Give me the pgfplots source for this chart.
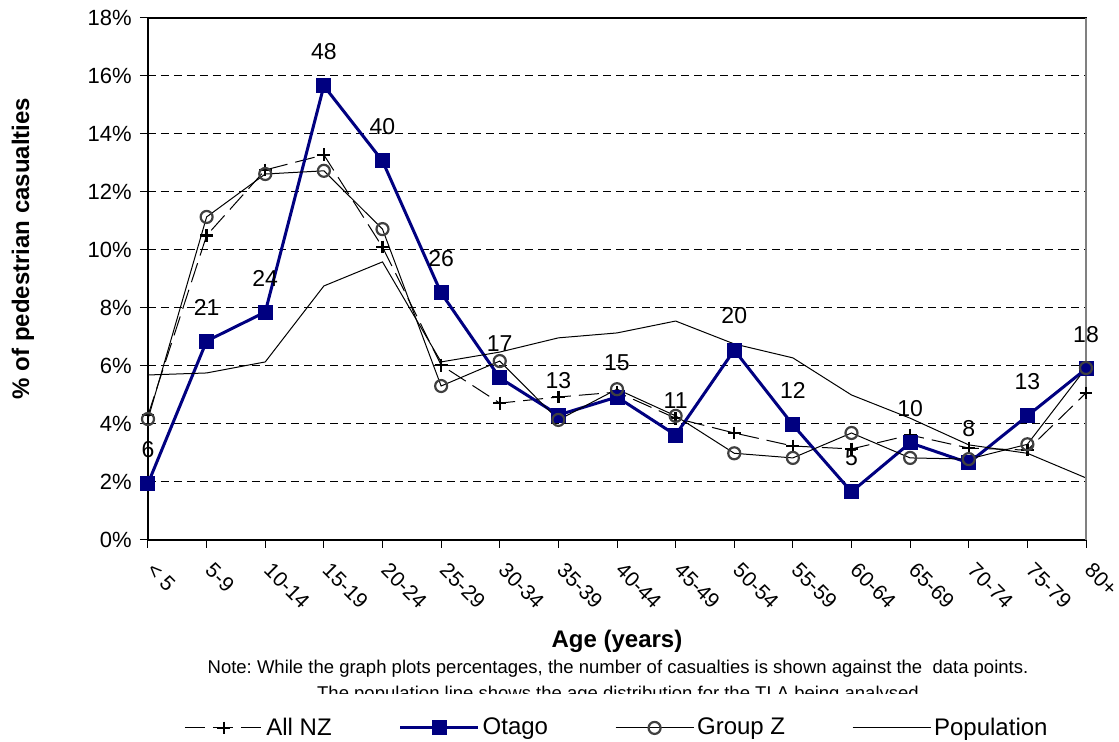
\documentclass[border=0pt]{standalone}
\usepackage{fontspec}
\setmainfont{Liberation Sans}
\usepackage{pgfplots}
\pgfplotsset{compat=1.18}
\usepackage{pgfplotstable}
\definecolor{navy}{RGB}{0,0,128}
\definecolor{cgray}{RGB}{64,64,64}
\frenchspacing

\pgfplotstableread{
x allnz otago lab groupz pop
0  4.30  1.95 6   4.17 5.69
1  10.50 6.86 21  11.14 5.76
2  12.76 7.86 24  12.62 6.14
3  13.28 15.66 48 12.73 8.76
4  10.10 13.07 40 10.72 9.59
5  6.03  8.52 26  5.31 6.14
6  4.72  5.59 17  6.17 6.48
7  4.93  4.31 13  4.14 6.97
8  5.10  4.93 15  5.20 7.14
9  4.20  3.62 11  4.28 7.55
10 3.69  6.55 20  2.99 6.76
11 3.24  3.97 12  2.83 6.28
12 3.14  1.66 5   3.69 5.00
13 3.62  3.35 10  2.83 4.20
14 3.17  2.66 8   2.79 3.28
15 3.10  4.28 13  3.30 2.99
16 5.07  5.90 18  5.93 2.14
}\datatable

\begin{document}
\begin{tikzpicture}
\begin{axis}[
  at={(0,0)}, anchor=south west,
  scale only axis,
  width=469pt, height=261pt,
  xmin=0, xmax=16, ymin=0, ymax=18,
  xtick={0,...,16},
  xticklabels={< 5,5-9,10-14,15-19,20-24,25-29,30-34,35-39,40-44,45-49,50-54,55-59,60-64,65-69,70-74,75-79,80+},
  ytick={0,2,...,18},
  yticklabels={0\%,2\%,4\%,6\%,8\%,10\%,12\%,14\%,16\%,18\%},
  tick align=outside,
  major tick length=4pt,
  xtick pos=bottom, ytick pos=left,
  tick style={black, line width=0.5pt},
  axis line style={black, line width=0.6pt},
  ymajorgrids,
  grid style={black, line width=0.5pt, dash pattern=on 4pt off 2.5pt},
  xticklabel style={font=\fontsize{10.5}{12}\selectfont, rotate=-45, anchor=north west, inner sep=0pt, xshift=7.4pt, yshift=-1.8pt},
  yticklabel style={font=\fontsize{11}{13}\selectfont, inner sep=0pt, xshift=-4pt},
  legend columns=4,
  legend style={at={(axis description cs:0.5005,-0.36)}, anchor=center, draw=none, fill=none,
    font=\fontsize{12}{14}\selectfont,
    /tikz/every even column/.append style={column sep=32pt},
    nodes={inner sep=1.5pt}},
  legend image code/.code={\draw[mark repeat=2,mark phase=2,#1] plot coordinates {(0pt,0pt) (19.5pt,0pt) (39pt,0pt)};},
  clip=false,
]
\addplot[black, line width=0.5pt, dash pattern=on 10pt off 4pt, mark=+, mark size=3.2pt,
  mark options={solid, line width=1.2pt}] table[x=x, y=allnz] {\datatable};
\addlegendentry{All NZ}
\addplot[navy, line width=1.5pt, mark=square*, mark size=3pt, mark options={solid, fill=navy},
  nodes near coords, point meta=explicit symbolic,
  every node near coord/.append style={black, anchor=center, yshift=17pt, font=\fontsize{11.5}{13}\selectfont, inner sep=0pt}]
  table[x=x, y=otago, meta=lab] {\datatable};
\addlegendentry{Otago}
\addplot[black, line width=0.5pt, mark=o, mark size=3pt, mark options={cgray, line width=1.1pt, fill=none}]
  table[x=x, y=groupz] {\datatable};
\addlegendentry{Group Z}
\addplot[black, line width=0.5pt] table[x=x, y=pop] {\datatable};
\addlegendentry{Population}
\draw[gray, line width=0.8pt] (rel axis cs:1,0) -- (rel axis cs:1,1);
\end{axis}
\node[rotate=90, anchor=center, font=\bfseries\fontsize{12}{14}\selectfont] at (-62.5pt,145.75pt) {\% of pedestrian casualties};
\node[anchor=base, font=\bfseries\fontsize{12}{14}\selectfont] at (234.5pt,-54pt) {Age (years)};
\node[anchor=base, font=\fontsize{9.25}{11}\selectfont] at (235pt,-66.75pt) {Note: While the graph plots percentages, the number of casualties is shown against the\ \ data points.};
\begin{scope}
\clip (-74pt,-77pt) rectangle (485.5pt,-70pt);
\node[anchor=base, font=\fontsize{9.25}{11}\selectfont] at (235pt,-80pt) {The population line shows the age distribution for the TLA being analysed};
\end{scope}
\pgfresetboundingbox
\path[use as bounding box] (-74pt,-101pt) rectangle (485.5pt,270pt);
\end{tikzpicture}
\end{document}
